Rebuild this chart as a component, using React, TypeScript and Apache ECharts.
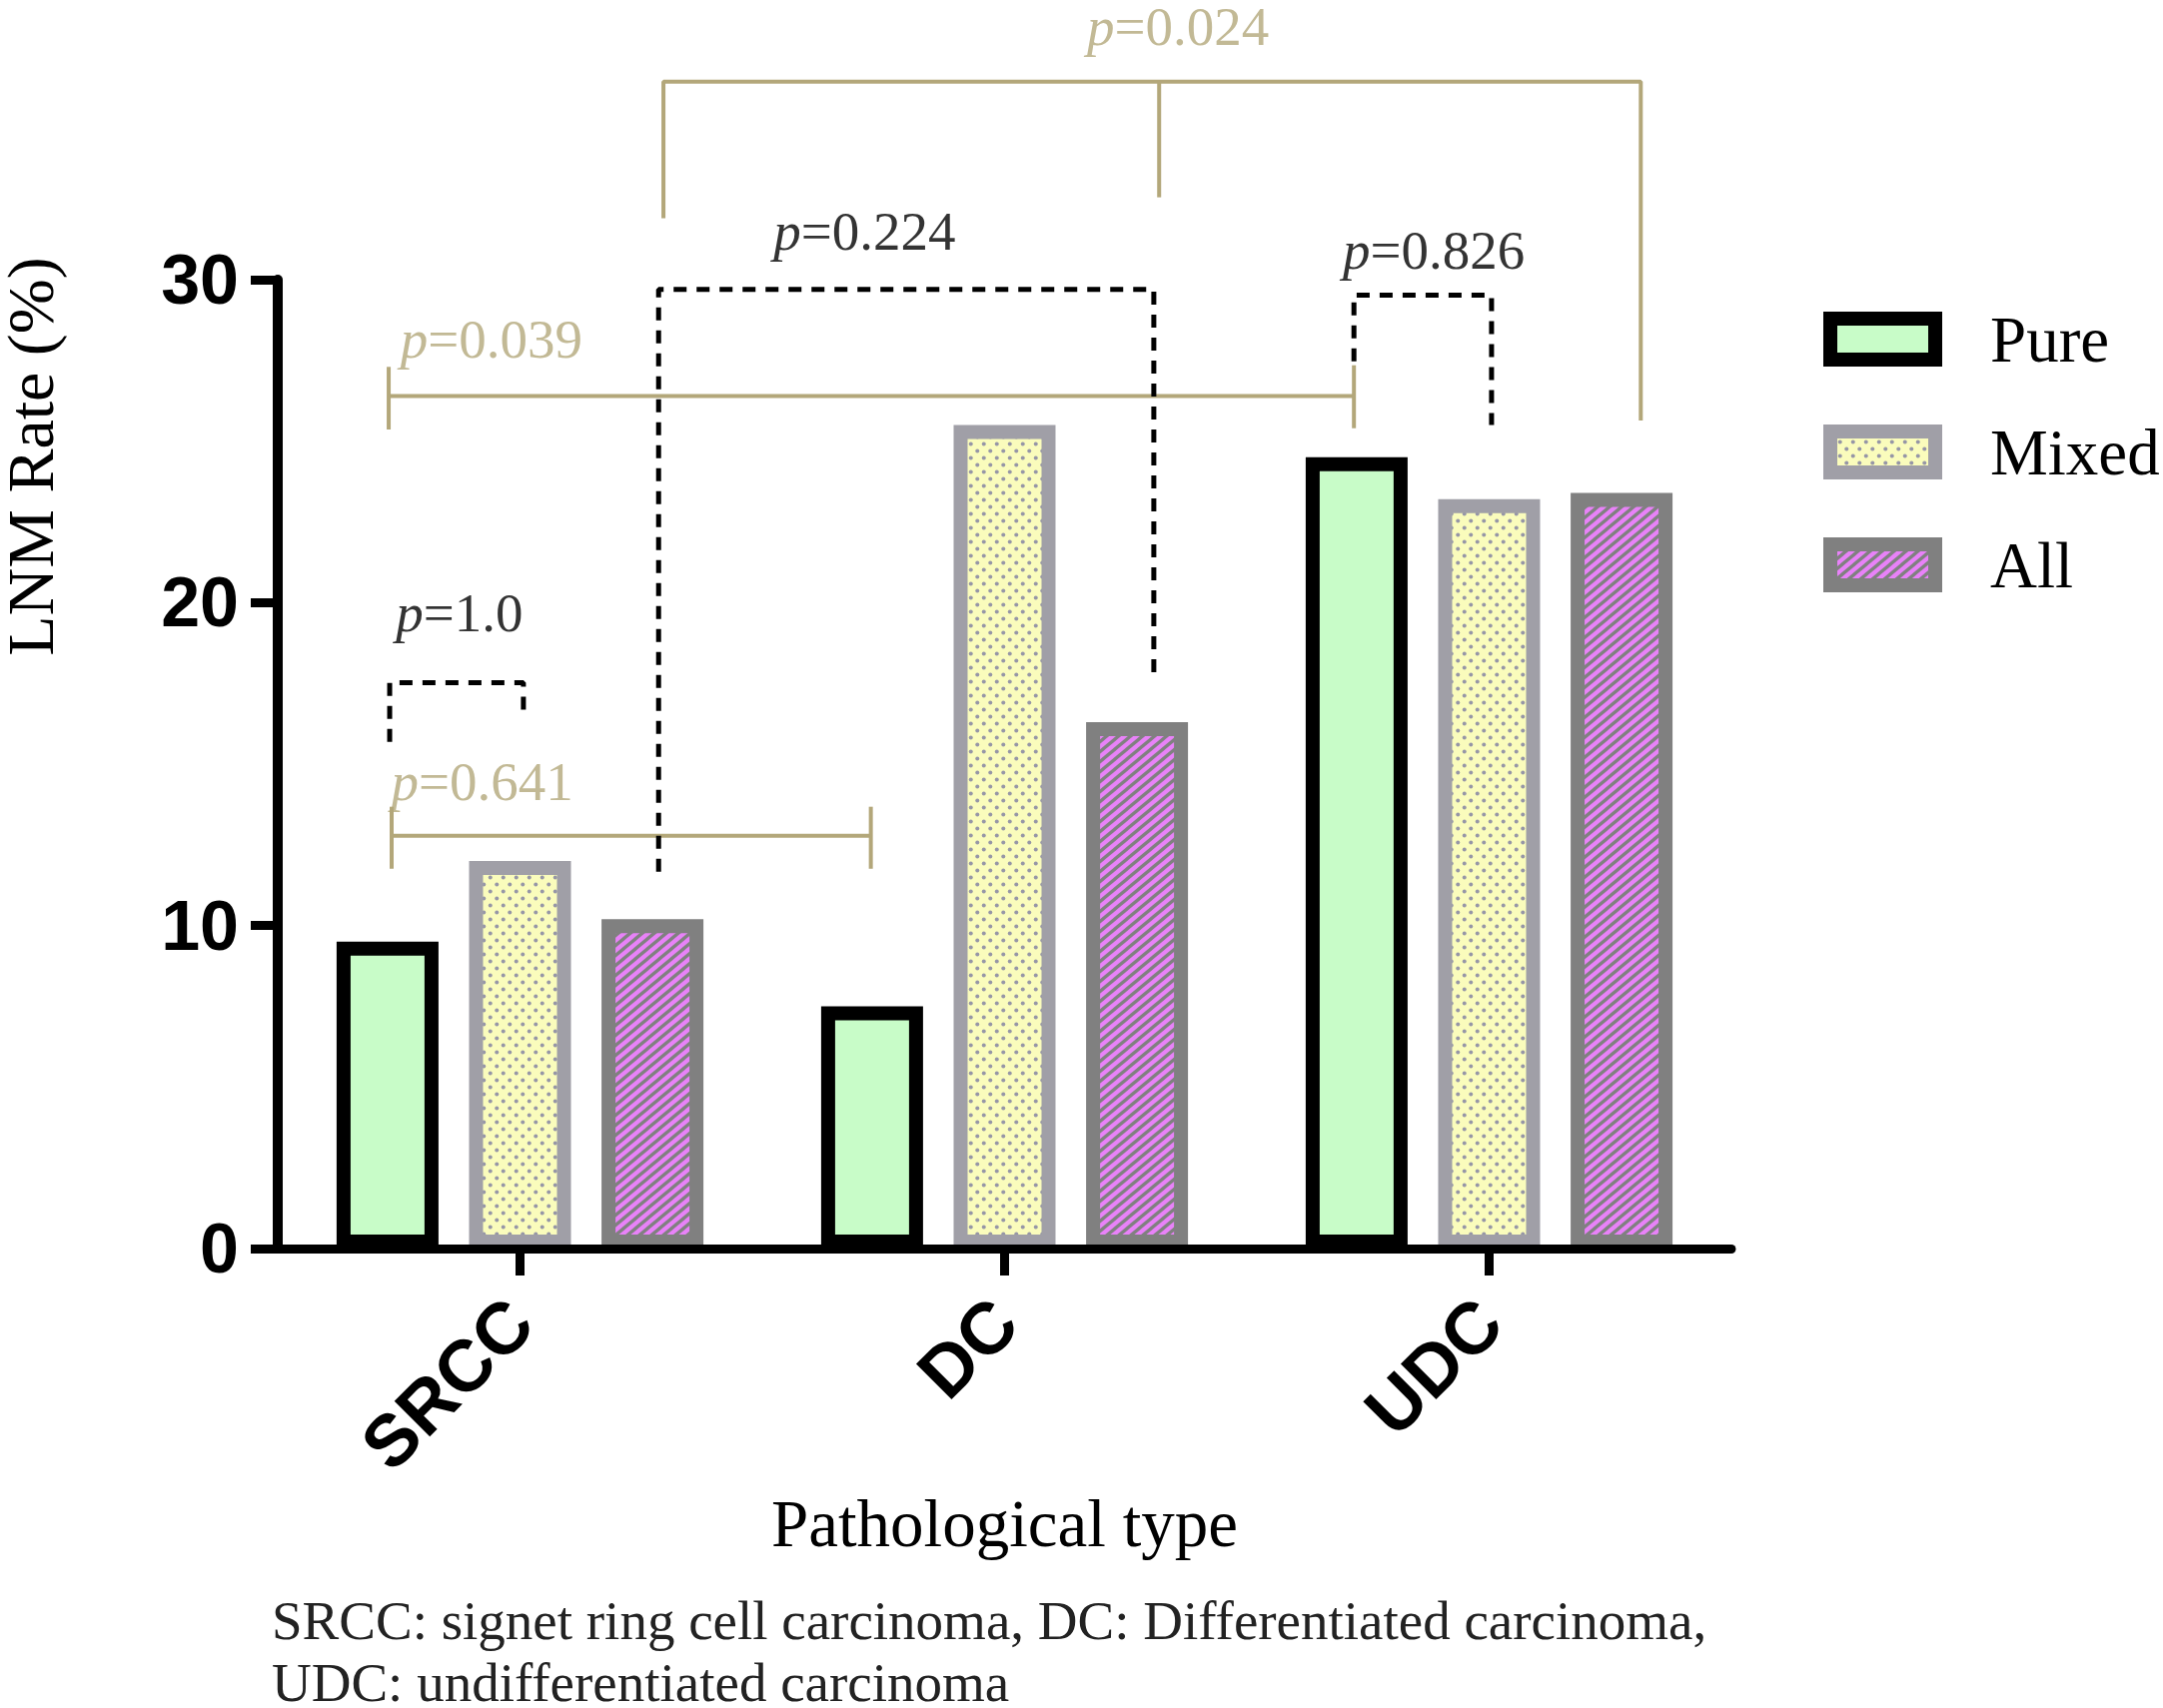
import React, { useEffect, useRef } from 'react';
import * as echarts from 'echarts';

// ---------- data ----------
const categories = ['SRCC', 'DC', 'UDC'];
const seriesNames = ['Pure', 'Mixed', 'All'];
const pureValues = [9.5, 7.5, 24.5];
const mixedValues = [12.0, 25.5, 23.2];
const allValues = [10.2, 16.3, 23.4];
const yMin = 0;
const yMax = 30;
const yStep = 10;

// comparison brackets, in (group position, value) coordinates
const significantSegments: number[][][] = [
  [[0.296, 31.9], [0.296, 36.13], [2.313, 36.13], [2.313, 25.64]],
  [[1.319, 36.13], [1.319, 32.55]],
  [[-0.271, 26.4], [1.721, 26.4]],
  [[-0.271, 27.3], [-0.271, 25.36]],
  [[1.721, 27.35], [1.721, 25.4]],
  [[-0.265, 12.78], [0.724, 12.78]],
  [[-0.265, 13.68], [-0.265, 11.76]],
  [[0.724, 13.68], [0.724, 11.76]],
];
const nonSignificantSegments: number[][][] = [
  [[0.286, 11.67], [0.286, 29.7], [1.308, 29.7], [1.308, 17.57]],
  [[1.721, 27.47], [1.721, 29.52], [2.005, 29.52], [2.005, 25.5]],
  [[-0.269, 15.69], [-0.269, 17.52], [0.007, 17.52], [0.007, 16.45]],
];
const significantP = ['0.024', '0.039', '0.641'];
const significantPX = [1.358, -0.059, -0.078];
const significantPY = [37.85, 28.16, 14.45];
const nonSignificantP = ['0.224', '0.826', '1.0'];
const nonSignificantPX = [0.711, 1.886, -0.125];
const nonSignificantPY = [31.5, 30.9, 19.7];

const yTitle = 'LNM Rate (%)';
const xTitle = 'Pathological type';
const footnote1 = 'SRCC: signet ring cell carcinoma, DC: Differentiated carcinoma,';
const footnote2 = 'UDC: undifferentiated carcinoma';

// ---------- styles ----------
const SERIF = "'Times New Roman', 'Liberation Serif', serif";
const SANS = "Arial, 'Liberation Sans', sans-serif";
const KHAKI = '#b3a77a';

const DOT_W = 13;
const DOT_H = 14;
const STRIPE_W = 12;
const STRIPE_H = 10;

function dotPattern(): string {
  const c = document.createElement('canvas');
  c.width = DOT_W;
  c.height = DOT_H;
  const g = c.getContext('2d')!;
  g.fillStyle = '#fafcbc';
  g.fillRect(0, 0, DOT_W, DOT_H);
  g.fillStyle = '#9696a6';
  g.beginPath();
  g.arc(DOT_W / 4, DOT_H / 4, 2, 0, Math.PI * 2);
  g.fill();
  g.beginPath();
  g.arc((3 * DOT_W) / 4, (3 * DOT_H) / 4, 2, 0, Math.PI * 2);
  g.fill();
  return c.toDataURL();
}

function stripePattern(): string {
  const W = STRIPE_W;
  const H = STRIPE_H;
  const c = document.createElement('canvas');
  c.width = W;
  c.height = H;
  const g = c.getContext('2d')!;
  g.fillStyle = '#e882f8';
  g.fillRect(0, 0, W, H);
  g.strokeStyle = '#808080';
  g.lineWidth = 3.3;
  for (const k of [0, 1, 2]) {
    g.beginPath();
    g.moveTo(W * (k + 1), -H);
    g.lineTo(W * (k - 2), 2 * H);
    g.stroke();
  }
  return c.toDataURL();
}

export default function App() {
  const ref = useRef<HTMLDivElement>(null);

  useEffect(() => {
    document.body.style.margin = '0';
    const chart = echarts.init(ref.current!, undefined, { renderer: 'svg' });

    const dots = { image: dotPattern(), repeat: 'repeat', imageWidth: DOT_W, imageHeight: DOT_H };
    const stripes = { image: stripePattern(), repeat: 'repeat', imageWidth: STRIPE_W, imageHeight: STRIPE_H };

    const barBase = {
      type: 'bar',
      xAxisIndex: 0,
      yAxisIndex: 0,
      barWidth: 102,
      barGap: '30%',
      z: 2,
    };

    const lineSeries = (segs: number[][][], color: string, dashed: boolean) =>
      segs.map((pts) => ({
        type: 'line',
        xAxisIndex: 1,
        yAxisIndex: 0,
        data: pts,
        symbol: 'none',
        clip: false,
        silent: true,
        z: 4,
        lineStyle: {
          color,
          width: dashed ? 5 : 4,
          type: dashed ? [13, 10] : 'solid',
          cap: 'butt',
        },
      }));

    const textSeries = (labels: string[], xs: number[], ys: number[], color: string) => ({
      type: 'scatter',
      xAxisIndex: 1,
      yAxisIndex: 0,
      symbolSize: 0,
      clip: false,
      silent: true,
      z: 5,
      data: labels.map((l, i) => [xs[i], ys[i], l]),
      label: {
        show: true,
        position: 'inside',
        formatter: (p: any) => `{i|p}{n|=${p.value[2]}}`,
        rich: {
          i: { fontFamily: SERIF, fontStyle: 'italic', fontSize: 55, lineHeight: 44, color },
          n: { fontFamily: SERIF, fontSize: 55, lineHeight: 44, color },
        },
      },
    });

    chart.setOption({
      animation: false,
      backgroundColor: '#ffffff',
      grid: {
        left: 278,
        right: 432,
        top: 280,
        bottom: 460,
        containLabel: false,
        outerBoundsMode: 'none',
      },
      legend: {
        data: seriesNames,
        orient: 'vertical',
        left: 1825,
        top: 307,
        padding: 0,
        icon: 'rect',
        itemWidth: 105,
        itemHeight: 41,
        itemGap: 48,
        itemStyle: { borderWidth: 14 },
        textStyle: {
          fontFamily: SERIF,
          fontSize: 65,
          lineHeight: 64,
          color: '#000',
          padding: [0, 0, 0, 50],
        },
        selectedMode: false,
      },
      xAxis: [
        {
          type: 'category',
          data: categories,
          z: 6,
          name: xTitle,
          nameLocation: 'middle',
          nameGap: 240,
          nameTextStyle: { fontFamily: SERIF, fontSize: 67, color: '#000' },
          axisLine: { show: true, onZero: false, lineStyle: { color: '#000', width: 9 } },
          axisTick: { show: true, alignWithLabel: true, length: 27, lineStyle: { color: '#000', width: 9 } },
          axisLabel: {
            rotate: 45,
            margin: 62,
            fontFamily: SANS,
            fontWeight: 'bold',
            fontSize: 73,
            color: '#000',
          },
          splitLine: { show: false },
        },
        {
          type: 'value',
          min: -0.5,
          max: 2.5,
          show: false,
          axisLine: { onZero: false },
        },
      ],
      yAxis: {
        type: 'value',
        min: yMin,
        max: yMax,
        interval: yStep,
        z: 6,
        axisLine: { show: true, onZero: false, lineStyle: { color: '#000', width: 10 } },
        axisTick: { show: true, length: 27, lineStyle: { color: '#000', width: 9 } },
        axisLabel: {
          margin: 39,
          fontFamily: SANS,
          fontWeight: 'bold',
          fontSize: 70,
          color: '#000',
        },
        splitLine: { show: false },
      },
      graphic: [
        {
          type: 'text',
          x: 30,
          y: 457,
          rotation: Math.PI / 2,
          style: {
            text: yTitle,
            fontFamily: SERIF,
            fontSize: 66,
            lineHeight: 54,
            fill: '#000',
            align: 'center',
            verticalAlign: 'middle',
          },
        },
        {
          type: 'text',
          x: 272,
          y: 1622,
          style: {
            text: footnote1,
            fontFamily: SERIF,
            fontSize: 55,
            fill: '#222',
            align: 'left',
            verticalAlign: 'middle',
          },
        },
        {
          type: 'text',
          x: 272,
          y: 1684,
          style: {
            text: footnote2,
            fontFamily: SERIF,
            fontSize: 55,
            fill: '#222',
            align: 'left',
            verticalAlign: 'middle',
          },
        },
      ],
      series: [
        {
          ...barBase,
          name: seriesNames[0],
          data: pureValues,
          itemStyle: { color: '#c8fcc8', borderColor: '#000000', borderWidth: 14 },
        },
        {
          ...barBase,
          name: seriesNames[1],
          data: mixedValues,
          itemStyle: { color: dots, borderColor: '#a09fa7', borderWidth: 14 },
        },
        {
          ...barBase,
          name: seriesNames[2],
          data: allValues,
          itemStyle: { color: stripes, borderColor: '#808080', borderWidth: 14 },
        },
        ...lineSeries(significantSegments, KHAKI, false),
        ...lineSeries(nonSignificantSegments, '#000000', true),
        textSeries(significantP, significantPX, significantPY, KHAKI),
        textSeries(nonSignificantP, nonSignificantPX, nonSignificantPY, '#000000'),
      ],
    });

    return () => {
      chart.dispose();
    };
  }, []);

  return <div ref={ref} style={{ width: 2165, height: 1710 }} />;
}
